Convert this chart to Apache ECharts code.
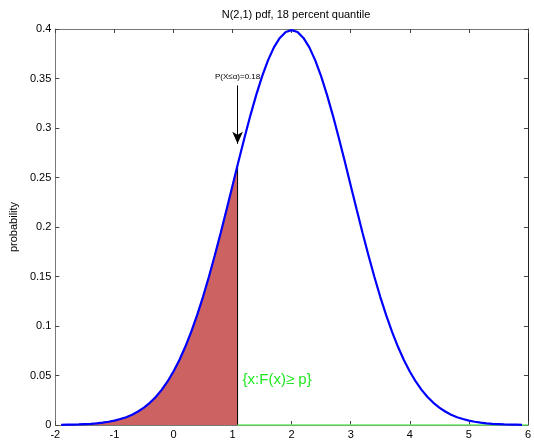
<!DOCTYPE html>
<html><head><meta charset="utf-8">
<script src="https://cdn.jsdelivr.net/npm/echarts@6/dist/echarts.min.js"></script>
<style>html,body{margin:0;padding:0;background:#fff}#c{width:534px;height:442px}</style>
</head><body><div id="c"></div>
<script>
// Curve points (x, density)
const xs = [-1.9,-1.8,-1.7,-1.6,-1.5,-1.4,-1.3,-1.2,-1.1,-1.0,-0.9,-0.8,-0.7,-0.6,-0.5,-0.4,-0.3,-0.2,-0.1,0.0,
  0.1,0.2,0.3,0.4,0.5,0.6,0.7,0.8,0.9,1.0,1.1,1.2,1.3,1.4,1.5,1.6,1.7,1.8,1.9,2.0,
  2.1,2.2,2.3,2.4,2.5,2.6,2.7,2.8,2.9,3.0,3.1,3.2,3.3,3.4,3.5,3.6,3.7,3.8,3.9,4.0,
  4.1,4.2,4.3,4.4,4.5,4.6,4.7,4.8,4.9,5.0,5.1,5.2,5.3,5.4,5.5,5.6,5.7,5.8,5.9];
const ys = [0.0002,0.0003,0.0004,0.0006,0.0009,0.0012,0.0017,0.0024,0.0033,0.0044,0.0060,0.0079,0.0104,0.0136,0.0175,0.0224,0.0283,0.0355,0.0440,0.0540,
  0.0656,0.0790,0.0940,0.1109,0.1295,0.1497,0.1714,0.1942,0.2179,0.2420,0.2661,0.2897,0.3123,0.3332,0.3521,0.3683,0.3814,0.3910,0.3970,0.3989,
  0.3970,0.3910,0.3814,0.3683,0.3521,0.3332,0.3123,0.2897,0.2661,0.2420,0.2179,0.1942,0.1714,0.1497,0.1295,0.1109,0.0940,0.0790,0.0656,0.0540,
  0.0440,0.0355,0.0283,0.0224,0.0175,0.0136,0.0104,0.0079,0.0060,0.0044,0.0033,0.0024,0.0017,0.0012,0.0009,0.0006,0.0004,0.0003,0.0002];
const quantileX = 1.085;
const quantileY = 0.2625;
const probText = 'P(X\u2264\u03b1)=0.18';
const setText = '{x:F(x)\u2265 p}';
const xTicks = [-2,-1,0,1,2,3,4,5,6];
const yTicks = [0,0.05,0.1,0.15,0.2,0.25,0.3,0.35,0.4];

const curve = xs.map((x,i)=>[x,ys[i]]);
const fill = curve.filter(p=>p[0] < quantileX).concat([[quantileX,quantileY],[quantileX,0]]);

const font = 'Liberation Sans, Arial, sans-serif';
const chart = echarts.init(document.getElementById('c'));
const axBase = {
  axisLine:{show:true,onZero:false,lineStyle:{color:'#777',width:1}},
  axisTick:{show:true,inside:true,length:4,lineStyle:{color:'#444'}},
  splitLine:{show:false}
};
chart.setOption({
  animation:false,
  title:{text:'N(2,1) pdf, 18 percent quantile',left:291,top:4,textAlign:'center',
    textStyle:{fontFamily:font,fontSize:11,fontWeight:'normal',color:'#000'}},
  grid:{left:52,right:3,top:29,bottom:17},
  xAxis:[
    Object.assign({type:'value',min:-2,max:6,interval:1,position:'bottom',
      axisLabel:{color:'#000',fontFamily:font,fontSize:11,margin:4}},axBase),
    Object.assign({type:'value',min:-2,max:6,interval:1,position:'top',
      axisLabel:{show:false}},axBase)
  ],
  yAxis:[
    Object.assign({type:'value',min:0,max:0.4,interval:0.05,position:'left',
      name:'probability',nameLocation:'middle',nameGap:36,
      nameTextStyle:{fontFamily:font,fontSize:11,color:'#000'},
      axisLabel:{color:'#000',fontFamily:font,fontSize:11,margin:4,
        formatter:v=>String(+v.toFixed(2))}},axBase),
    Object.assign({type:'value',min:0,max:0.4,interval:0.05,position:'right',
      axisLabel:{show:false}},axBase,{axisLine:{show:true,onZero:false,lineStyle:{color:'#222',width:1}}})
  ],
  series:[
    {type:'line',data:fill,symbol:'none',z:2,
      lineStyle:{color:'#000',width:1},
      areaStyle:{color:'#cc6262',opacity:1,origin:'start'}},
    {type:'line',data:[[quantileX,0],[6,0]],symbol:'none',z:3,
      lineStyle:{color:'#66ee66',width:1.5}},
    {type:'line',data:curve,symbol:'none',z:4,
      lineStyle:{color:'#0000ff',width:2.2},
      markLine:{silent:true,symbol:['none','arrow'],symbolSize:[8,12],
        lineStyle:{color:'#000',width:1,type:'solid'},label:{show:false},
        data:[[{coord:[quantileX,0.343]},{coord:[quantileX,0.284]}]]},
      markPoint:{silent:true,symbol:'circle',symbolSize:0,
        data:[
          {coord:[quantileX,0.352],label:{show:true,formatter:probText,position:'inside',
            fontFamily:font,fontSize:8,color:'#000'}},
          {coord:[1.17,0.046],label:{show:true,formatter:setText,position:'right',distance:0,
            fontFamily:font,fontSize:15,color:'#22e822'}}
        ]}}
  ]
});
</script></body></html>
